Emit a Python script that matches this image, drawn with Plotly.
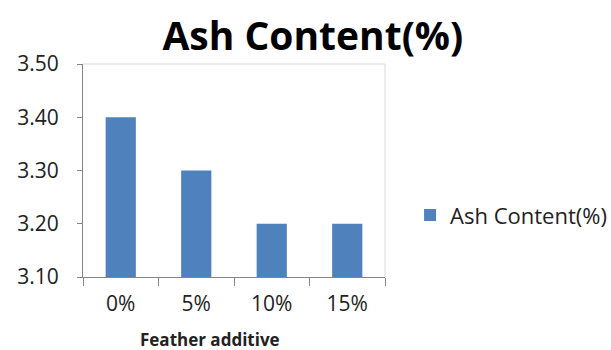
import plotly.graph_objects as go

categories = ["0%", "5%", "10%", "15%"]
ash_content = [3.40, 3.30, 3.20, 3.20]
y_ticks = [3.10, 3.20, 3.30, 3.40, 3.50]
y_tick_labels = ["3.10", "3.20", "3.30", "3.40", "3.50"]
axis_floor = 3.10

BAR_BLUE = "#4F81BD"
AXIS_GRAY = "#868686"
BORDER_GRAY = "#D9D9D9"
TEXT = "#222222"
FONT = "Open Sans"

fig = go.Figure()
# bars rise from the axis floor; heights are the values above it
fig.add_trace(go.Bar(
    x=categories,
    y=[v - axis_floor for v in ash_content],
    base=axis_floor,
    name="Ash Content(%)",
    marker=dict(color=BAR_BLUE, line=dict(width=0)),
))

fig.update_layout(
    width=611,
    height=350,
    margin=dict(l=83, r=226, t=64, b=73, autoexpand=False),
    paper_bgcolor="white",
    plot_bgcolor="white",
    bargap=0.6,
    title=dict(
        text="<b>Ash Content(%)</b>",
        x=0.512, xanchor="center",
        y=0.895, yanchor="middle",
        font=dict(family=FONT, size=39, color="black"),
    ),
    showlegend=True,
    legend=dict(
        x=1.083, xanchor="left",
        y=0.29, yanchor="middle",
        font=dict(family=FONT, size=22, color=TEXT),
        itemwidth=30,
        bgcolor="rgba(0,0,0,0)",
    ),
    xaxis=dict(
        type="category",
        showline=True, linecolor=AXIS_GRAY, linewidth=1,
        ticks="outside", tickson="boundaries", ticklen=8, tickcolor=AXIS_GRAY,
        showgrid=False,
        tickfont=dict(family=FONT, size=21, color=TEXT),
        ticklabelstandoff=8,
    ),
    yaxis=dict(
        range=[3.10, 3.50],
        tickvals=y_ticks,
        ticktext=y_tick_labels,
        showline=True, linecolor=AXIS_GRAY, linewidth=1,
        ticks="outside", ticklen=5, tickcolor=AXIS_GRAY,
        showgrid=False, zeroline=False,
        tickfont=dict(family=FONT, size=21, color=TEXT),
        ticklabelstandoff=14,
    ),
)

# x-axis title, set slightly left of the plot centre
fig.add_annotation(
    text="<b>Feather additive</b>",
    xref="paper", yref="paper",
    x=0.42, y=-0.295, xanchor="center", yanchor="middle",
    showarrow=False,
    font=dict(family=FONT, size=17, color=TEXT),
)

# light plot-area border along the top and right edges
fig.add_shape(type="line", xref="paper", yref="paper", x0=0, x1=1, y0=1, y1=1,
              line=dict(color=BORDER_GRAY, width=1))
fig.add_shape(type="line", xref="paper", yref="paper", x0=1, x1=1, y0=0, y1=1,
              line=dict(color=BORDER_GRAY, width=1))

fig.write_html("out.html")
